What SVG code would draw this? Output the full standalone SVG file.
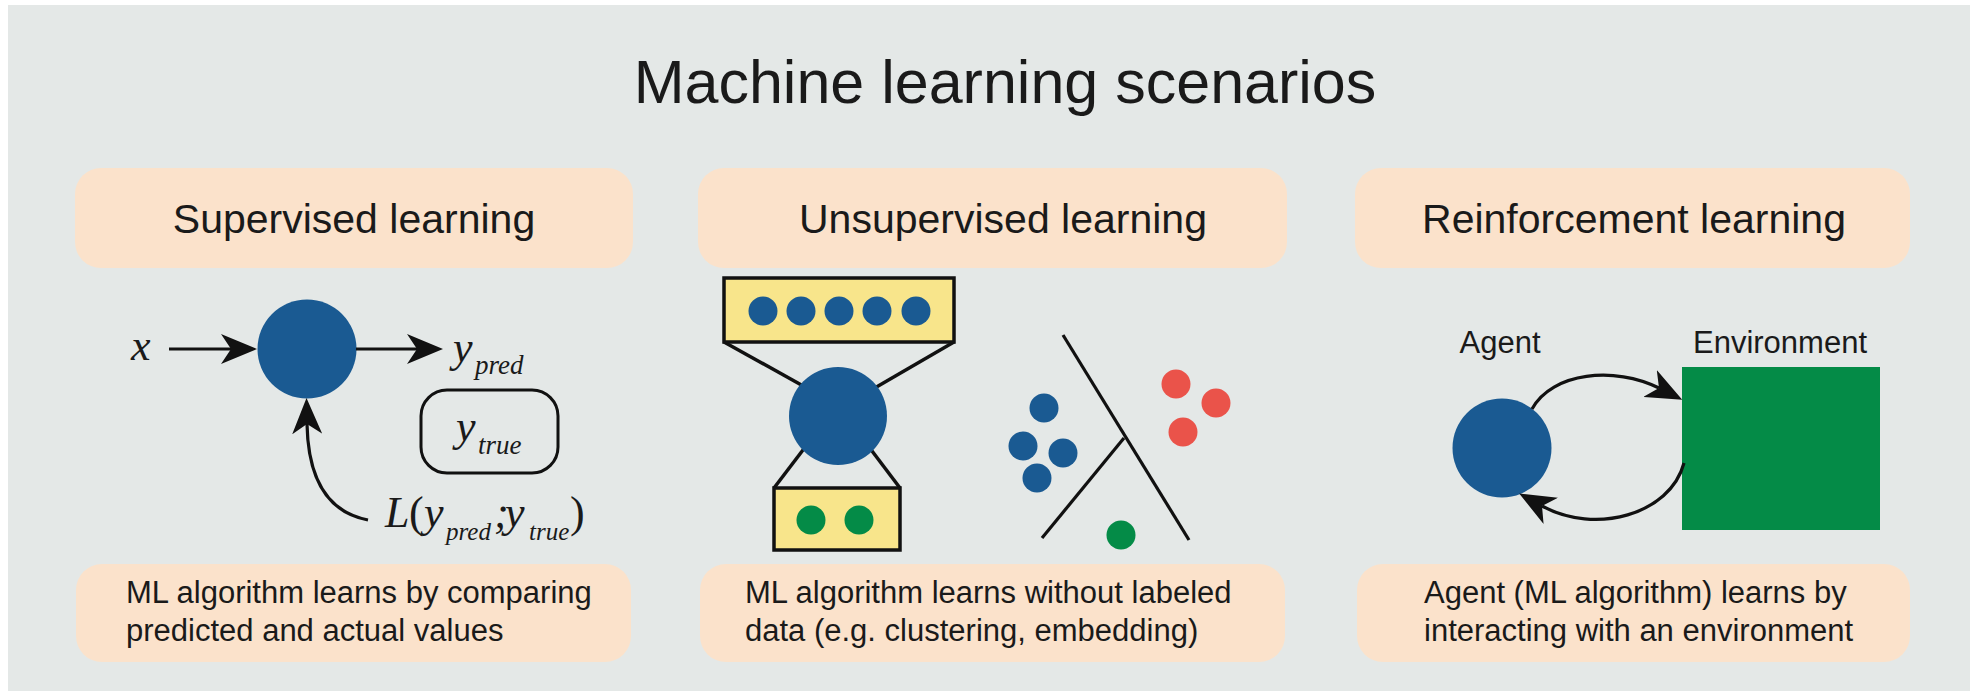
<svg xmlns="http://www.w3.org/2000/svg" width="1970" height="691" viewBox="0 0 1970 691">
  <style>
    .sans { font-family: "Liberation Sans", Arial, sans-serif; fill: #1a1a1a; }
    .title { font-size: 61px; text-anchor: middle; }
    .head { font-size: 41px; text-anchor: middle; }
    .body { font-size: 31px; }
    .lbl { font-size: 31px; text-anchor: middle; }
    .math { font-family: "Liberation Serif", "Times New Roman", serif; font-style: italic; font-size: 44px; fill: #1a1a1a; }
    .sub { font-size: 27px; }
    .sub2 { font-size: 25px; }
    .up { font-style: normal; }
    .peach { fill: #fbe2cb; }
    .blue { fill: #1a5a92; }
    .green { fill: #048b47; }
    .red { fill: #ea534a; }
    .yellow { fill: #f8e58b; stroke: #111; stroke-width: 3.5; }
    .wire { fill: none; stroke: #111; stroke-width: 3.2; }
    .thick { fill: none; stroke: #111; stroke-width: 3.5; }
  </style>
  <defs>
    <marker id="ah" viewBox="0 0 36 30" refX="10" refY="15" markerWidth="36" markerHeight="30" markerUnits="userSpaceOnUse" orient="auto">
      <path d="M36,15 L0,0 L10,15 L0,30 Z" fill="#111"/>
    </marker>
  </defs>

  <rect x="0" y="0" width="1970" height="691" fill="#ffffff"/>
  <rect x="8" y="5" width="1962" height="686" fill="#e4e8e7"/>

  <g id="title">
    <text class="sans title" x="1005" y="103">Machine learning scenarios</text>
  </g>

  <!-- Headers -->
  <g id="header-supervised">
    <rect class="peach" x="75" y="168" width="558" height="100" rx="26"/>
    <text class="sans head" x="354" y="233">Supervised learning</text>
  </g>
  <g id="header-unsupervised">
    <rect class="peach" x="698" y="168" width="589" height="100" rx="26"/>
    <text class="sans head" x="1003" y="233">Unsupervised learning</text>
  </g>
  <g id="header-reinforcement">
    <rect class="peach" x="1355" y="168" width="555" height="100" rx="26"/>
    <text class="sans head" x="1634" y="233">Reinforcement learning</text>
  </g>

  <!-- Descriptions -->
  <g id="desc-supervised">
    <rect class="peach" x="76" y="564" width="555" height="98" rx="26"/>
    <text class="sans body" x="126" y="603">ML algorithm learns by comparing</text>
    <text class="sans body" x="126" y="641">predicted and actual values</text>
  </g>
  <g id="desc-unsupervised">
    <rect class="peach" x="700" y="564" width="585" height="98" rx="26"/>
    <text class="sans body" x="745" y="603">ML algorithm learns without labeled</text>
    <text class="sans body" x="745" y="641">data (e.g. clustering, embedding)</text>
  </g>
  <g id="desc-reinforcement">
    <rect class="peach" x="1357" y="564" width="553" height="98" rx="26"/>
    <text class="sans body" x="1424" y="603">Agent (ML algorithm) learns by</text>
    <text class="sans body" x="1424" y="641">interacting with an environment</text>
  </g>

  <!-- Supervised nodes -->
  <g id="sup-x">
    <text class="math" x="131" y="360">x</text>
  </g>
  <g id="sup-model">
    <circle class="blue" cx="307" cy="349" r="49.5"/>
  </g>
  <g id="sup-ypred">
    <text class="math" x="453" y="362">y</text>
    <text class="math sub" x="475" y="374">pred</text>
  </g>
  <g id="sup-ytrue">
    <rect x="421" y="390" width="137" height="83" rx="26" fill="none" stroke="#111" stroke-width="3"/>
    <text class="math" x="456" y="441">y</text>
    <text class="math sub" x="478" y="454">true</text>
  </g>
  <g id="sup-loss">
    <text class="math" x="385" y="527">L</text>
    <text class="math up" x="409" y="527">(</text>
    <text class="math" x="424" y="527">y</text>
    <text class="math sub2" x="446" y="540">pred</text>
    <text class="math" x="494" y="527">;</text>
    <text class="math" x="505" y="527">y</text>
    <text class="math sub2" x="529" y="540">true</text>
    <text class="math up" x="570" y="527">)</text>
  </g>

  <!-- Unsupervised: embedding -->
  <g id="unsup-encoder-lines">
    <line class="thick" x1="724" y1="342" x2="805" y2="387"/>
    <line class="thick" x1="954" y1="342" x2="873" y2="389"/>
    <line class="thick" x1="806" y1="446" x2="774" y2="488"/>
    <line class="thick" x1="869" y1="447" x2="900" y2="488"/>
  </g>
  <g id="unsup-input">
    <rect class="yellow" x="724" y="278" width="230" height="64"/>
    <circle class="blue" cx="763" cy="311" r="14.5"/>
    <circle class="blue" cx="801" cy="311" r="14.5"/>
    <circle class="blue" cx="839" cy="311" r="14.5"/>
    <circle class="blue" cx="877" cy="311" r="14.5"/>
    <circle class="blue" cx="916" cy="311" r="14.5"/>
  </g>
  <g id="unsup-model">
    <circle class="blue" cx="838" cy="416" r="49"/>
  </g>
  <g id="unsup-embedding">
    <rect class="yellow" x="774" y="488" width="126" height="62"/>
    <circle class="green" cx="811" cy="520" r="14.5"/>
    <circle class="green" cx="859" cy="520" r="14.5"/>
  </g>

  <!-- Unsupervised: clustering -->
  <g id="unsup-clusters">
    <line class="wire" x1="1063" y1="335" x2="1189" y2="540"/>
    <line class="wire" x1="1124" y1="438" x2="1042" y2="538"/>
    <circle class="blue" cx="1044" cy="408" r="14.5"/>
    <circle class="blue" cx="1023" cy="446" r="14.5"/>
    <circle class="blue" cx="1063" cy="453" r="14.5"/>
    <circle class="blue" cx="1037" cy="478" r="14.5"/>
    <circle class="red" cx="1176" cy="384" r="14.5"/>
    <circle class="red" cx="1216" cy="403" r="14.5"/>
    <circle class="red" cx="1183" cy="432" r="14.5"/>
    <circle class="green" cx="1121" cy="535" r="14.5"/>
  </g>

  <!-- Reinforcement -->
  <g id="rl-agent">
    <text class="sans lbl" x="1500" y="353">Agent</text>
    <circle class="blue" cx="1502" cy="448" r="49.5"/>
  </g>
  <g id="rl-environment">
    <text class="sans lbl" x="1780" y="353">Environment</text>
    <rect class="green" x="1682" y="367" width="198" height="163"/>
  </g>

  <!-- Connectors -->
  <g id="connectors">
    <line class="wire" x1="169" y1="349" x2="231" y2="349" marker-end="url(#ah)"/>
    <line class="wire" x1="356" y1="349" x2="417" y2="349" marker-end="url(#ah)"/>
    <path class="wire" d="M368,520 C326,512 308,476 307,424" marker-end="url(#ah)"/>
    <path class="wire" d="M1532,409 C1552,372 1615,366 1659,388" marker-end="url(#ah)"/>
    <path class="wire" d="M1684,463 C1670,515 1595,535 1542,506" marker-end="url(#ah)"/>
  </g>
</svg>
